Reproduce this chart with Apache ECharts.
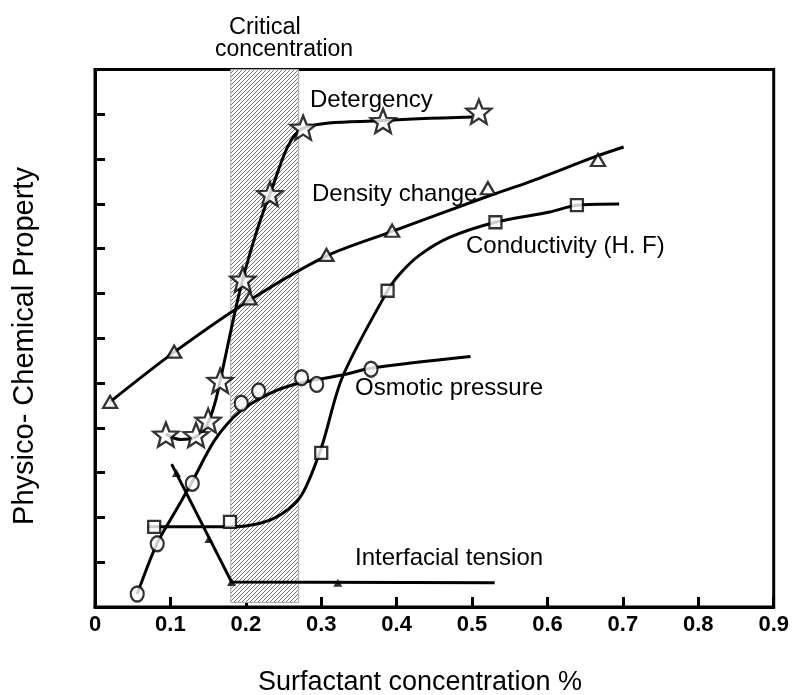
<!DOCTYPE html>
<html>
<head>
<meta charset="utf-8">
<title>Physico-chemical property vs surfactant concentration</title>
<script src="https://cdn.jsdelivr.net/npm/echarts@6/dist/echarts.min.js"></script>
<style>
  html, body { margin: 0; padding: 0; background: #fff; }
  #chart { width: 792px; height: 695px; }
</style>
</head>
<body>
<div id="chart"></div>
<script>
// x axis ticks
var xTicks = [0, 0.1, 0.2, 0.3, 0.4, 0.5, 0.6, 0.7, 0.8, 0.9];
var criticalRange = [0.18, 0.27];

// Detergency (stars)
var detergencyPts = [[0.094, 3.85], [0.134, 3.84], [0.150, 4.16], [0.166, 5.05], [0.196, 7.31],
  [0.232, 9.22], [0.276, 10.70], [0.382, 10.85], [0.509, 11.06]];
var detergencyCurve = [[0.094, 3.86], [0.113, 3.74], [0.132, 3.78], [0.148, 4.05], [0.159, 4.55],
  [0.167, 5.13], [0.196, 7.32], [0.232, 9.22], [0.276, 10.69], [0.381, 10.86], [0.500, 10.94]];

// Density change (triangles)
var densityPts = [[0.020, 4.58], [0.105, 5.70], [0.205, 6.89], [0.307, 7.86], [0.394, 8.40],
  [0.521, 9.35], [0.667, 9.98]];
var densityCurve = [[0.020, 4.58], [0.105, 5.69], [0.205, 6.85], [0.306, 7.83], [0.395, 8.39],
  [0.521, 9.17], [0.576, 9.49], [0.666, 10.07], [0.701, 10.27]];

// Conductivity (squares)
var conductPts = [[0.0785, 1.79], [0.179, 1.90], [0.300, 3.44], [0.388, 7.06], [0.531, 8.59], [0.639, 8.97]];
var conductCurve = [[0.070, 1.79], [0.126, 1.79], [0.180, 1.79], [0.219, 1.87], [0.248, 2.08],
  [0.274, 2.50], [0.300, 3.55], [0.328, 5.13], [0.388, 7.06], [0.405, 7.45],
  [0.430, 7.85], [0.470, 8.25], [0.531, 8.59], [0.603, 8.82], [0.639, 8.97], [0.695, 9.00]];

// Osmotic pressure (circles)
var osmoticPts = [[0.056, 0.29], [0.0825, 1.41], [0.129, 2.76], [0.194, 4.55], [0.217, 4.82],
  [0.274, 5.12], [0.294, 4.97], [0.366, 5.31]];
var osmoticCurve = [[0.056, 0.29], [0.082, 1.41], [0.106, 2.12], [0.128, 2.77], [0.159, 3.73],
  [0.192, 4.36], [0.232, 4.77], [0.269, 4.99], [0.328, 5.18], [0.366, 5.33], [0.498, 5.59]];

// Interfacial tension (small filled triangles)
var tensionPts = [[0.108, 2.99], [0.151, 1.52], [0.181, 0.56], [0.322, 0.54]];
var tensionCurve = [[0.1016, 3.19], [0.181, 0.56], [0.530, 0.54]];

var FONT = "'Liberation Sans', Arial, sans-serif";
var STAR = 'path://M0,-10L2.6,-3.4L9.5,-3.1L4.1,1.3L5.9,8.1L0,4.3L-5.9,8.1L-4.1,1.3L-9.5,-3.1L-2.6,-3.4Z';

// hatch pattern for the critical band
var hatch = document.createElement('canvas');
hatch.width = 4; hatch.height = 4;
var hc = hatch.getContext('2d');
hc.fillStyle = '#fff';
hc.fillRect(0, 0, 4, 4);
hc.strokeStyle = '#777';
hc.lineWidth = 1;
hc.beginPath();
hc.moveTo(-1, 1); hc.lineTo(1, -1);
hc.moveTo(0, 4); hc.lineTo(4, 0);
hc.moveTo(3, 5); hc.lineTo(5, 3);
hc.stroke();

function curve(data, smooth) {
  return {
    type: 'line', data: data, smooth: smooth, showSymbol: false, symbol: 'none',
    silent: true, z: 3,
    lineStyle: { color: '#000', width: 3 }
  };
}
function marks(data, symbol, size, fill) {
  return {
    type: 'scatter', data: data, symbol: symbol, symbolSize: size, silent: true, z: 4,
    itemStyle: { color: fill, borderColor: '#000', borderWidth: fill === '#000' ? 0 : 2.3 }
  };
}

function label(text, x, y, size) {
  return {
    type: 'text', x: x, y: y, silent: true,
    style: { text: text, font: size + 'px ' + FONT, fill: '#000', align: 'left', verticalAlign: 'middle' }
  };
}

var myChart = echarts.init(document.getElementById('chart'));
var option = {
  animation: false,
  grid: { left: 95, right: 17, top: 69.5, bottom: 88, show: true, borderColor: '#000', borderWidth: 3 },
  xAxis: {
    type: 'value', min: 0, max: 0.9, interval: 0.1,
    axisLine: { lineStyle: { color: '#000', width: 3 } },
    axisTick: { inside: true, length: 10, lineStyle: { color: '#000', width: 3 } },
    splitLine: { show: false },
    axisLabel: {
      color: '#000', fontSize: 22, fontWeight: 'bold', fontFamily: FONT, margin: 7,
      formatter: function (v) { return v === 0 ? '0' : v.toFixed(1); }
    }
  },
  yAxis: {
    type: 'value', min: 0, max: 12, interval: 1,
    axisLine: { lineStyle: { color: '#000', width: 3 } },
    axisTick: { inside: true, length: 10, lineStyle: { color: '#000', width: 3 } },
    splitLine: { show: false },
    axisLabel: { show: false }
  },
  series: [
    {
      type: 'scatter', data: [], z: 1, silent: true,
      markArea: {
        silent: true,
        itemStyle: { color: { image: hatch, repeat: 'repeat' }, borderColor: '#aaa', borderWidth: 1 },
        data: [[{ xAxis: criticalRange[0], yAxis: 0.1 }, { xAxis: criticalRange[1], yAxis: 12 }]]
      }
    },
    curve(detergencyCurve, 0.3),
    curve(densityCurve, 0.3),
    curve(conductCurve, 0.3),
    curve(osmoticCurve, 0.3),
    curve(tensionCurve, false),
    marks(detergencyPts, STAR, [25, 24], '#fff'),
    marks(densityPts, 'triangle', [14, 12], '#fff'),
    marks(conductPts, 'rect', [12, 12], '#fff'),
    marks(osmoticPts, 'circle', [13, 15], '#fff'),
    marks(tensionPts, 'triangle', [9, 8], '#000')
  ],
  graphic: [
    label('Critical', 229, 28, 23.5),
    label('concentration', 215, 50, 23),
    label('Detergency', 310, 100, 24),
    label('Density change', 312, 194, 24),
    label('Conductivity (H. F)', 466, 246, 24),
    label('Osmotic pressure', 355, 388, 24),
    label('Interfacial tension', 355, 558, 24),
    {
      type: 'text', x: 420, y: 683, silent: true,
      style: { text: 'Surfactant concentration %', font: '27px ' + FONT, fill: '#000', align: 'center', verticalAlign: 'middle' }
    },
    {
      type: 'text', x: 25, y: 346, rotation: Math.PI / 2, silent: true,
      style: { text: 'Physico- Chemical Property', font: '29px ' + FONT, fill: '#000', align: 'center', verticalAlign: 'middle' }
    }
  ]
};
myChart.setOption(option);
</script>
</body>
</html>
